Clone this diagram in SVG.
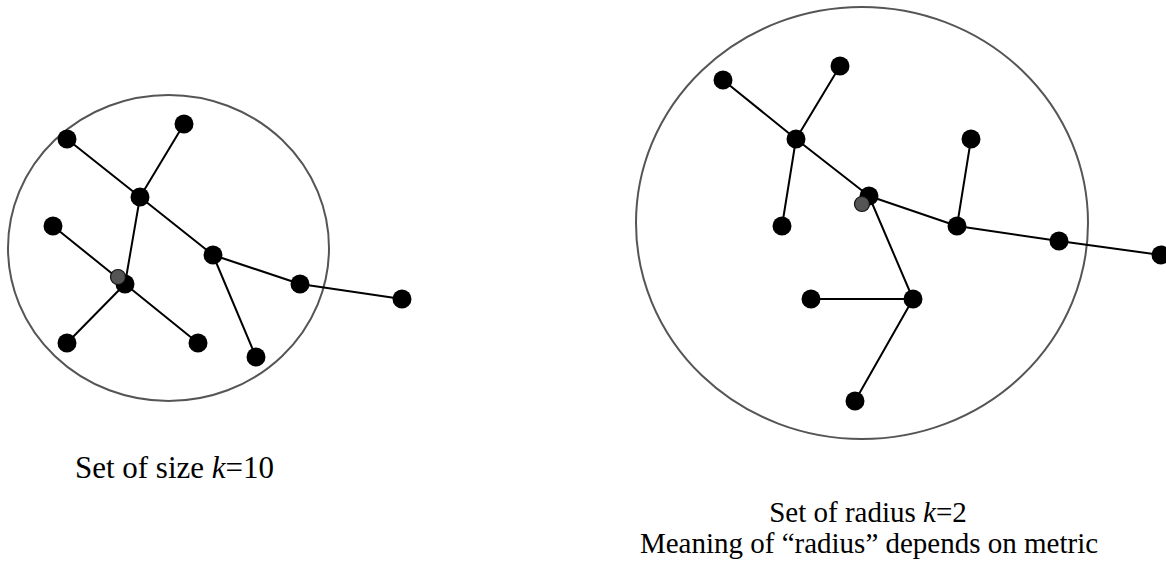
<svg xmlns="http://www.w3.org/2000/svg" width="1166" height="564" viewBox="0 0 1166 564">
<style>
.ring{fill:none;stroke:#555;stroke-width:2}
.edge{stroke:#000;stroke-width:2;fill:none}
.node{fill:#000}
.start{fill:#555;stroke:#111;stroke-width:1.2}
.lbl{font-family:"Liberation Serif","Times New Roman",serif;font-size:29px;fill:#000;text-anchor:middle}
</style>
<rect width="1166" height="564" fill="#fff"/>
<g id="ring-left"><ellipse class="ring" cx="168.5" cy="248" rx="160.5" ry="153"/></g>
<g id="ring-right"><ellipse class="ring" cx="862" cy="223" rx="226" ry="216"/></g>
<g id="connectors">
<path class="edge" d="M67,139L140,197M184,124L140,197M140,197L213,255M140,197L125,284M53,226L125,284M125,284L67,343M125,284L198,343M213,255L300,284M300,284L402,299M213,255L256,357"/>
<path class="edge" d="M723,80L796,139M840,66L796,139M796,139L782,226M796,139L869,196M869,196L957,226M971,139L957,226M957,226L1059,241M1059,241L1161,255M869,196L913,299M811,299L913,299M913,299L855,401"/>
</g>
<g id="n-l1"><circle class="node" cx="67" cy="139" r="9.5"/></g>
<g id="n-l2"><circle class="node" cx="184" cy="124" r="9.5"/></g>
<g id="n-l3"><circle class="node" cx="140" cy="197" r="9.5"/></g>
<g id="n-l4"><circle class="node" cx="53" cy="226" r="9.5"/></g>
<g id="n-l5"><circle class="node" cx="125" cy="284" r="9.5"/></g>
<g id="n-l5s"><circle class="start" cx="118" cy="277" r="7.5"/></g>
<g id="n-l6"><circle class="node" cx="213" cy="255" r="9.5"/></g>
<g id="n-l7"><circle class="node" cx="300" cy="284" r="9.5"/></g>
<g id="n-l8"><circle class="node" cx="402" cy="299" r="9.5"/></g>
<g id="n-l9"><circle class="node" cx="67" cy="343" r="9.5"/></g>
<g id="n-l10"><circle class="node" cx="198" cy="343" r="9.5"/></g>
<g id="n-l11"><circle class="node" cx="256" cy="357" r="9.5"/></g>
<g id="n-r1"><circle class="node" cx="723" cy="80" r="9.5"/></g>
<g id="n-r2"><circle class="node" cx="840" cy="66" r="9.5"/></g>
<g id="n-r3"><circle class="node" cx="796" cy="139" r="9.5"/></g>
<g id="n-r4"><circle class="node" cx="782" cy="226" r="9.5"/></g>
<g id="n-r5"><circle class="node" cx="869" cy="196" r="9.5"/></g>
<g id="n-r5s"><circle class="start" cx="862" cy="204" r="7.5"/></g>
<g id="n-r6"><circle class="node" cx="971" cy="139" r="9.5"/></g>
<g id="n-r7"><circle class="node" cx="957" cy="226" r="9.5"/></g>
<g id="n-r8"><circle class="node" cx="1059" cy="241" r="9.5"/></g>
<g id="n-r9"><circle class="node" cx="1161" cy="255" r="9.5"/></g>
<g id="n-r10"><circle class="node" cx="811" cy="299" r="9.5"/></g>
<g id="n-r11"><circle class="node" cx="913" cy="299" r="9.5"/></g>
<g id="n-r12"><circle class="node" cx="855" cy="401" r="9.5"/></g>
<g id="labels">
<text class="lbl" x="174.5" y="478" style="font-size:31px">Set of size <tspan font-style="italic">k</tspan>=10</text>
<text class="lbl" x="868" y="522">Set of radius <tspan font-style="italic">k</tspan>=2</text>
<text class="lbl" x="869" y="553">Meaning of “radius” depends on metric</text>
</g>
</svg>
